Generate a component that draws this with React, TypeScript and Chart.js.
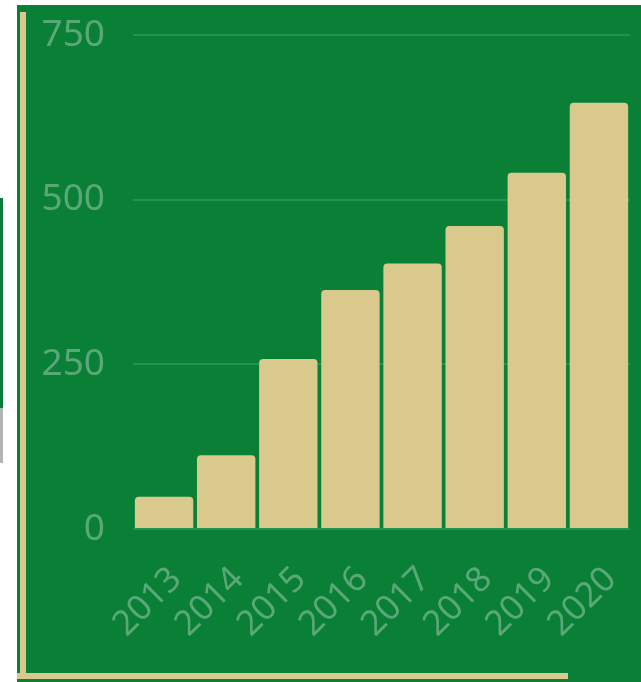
import React, { useEffect, useRef } from "react";
import { Chart, registerables } from "chart.js";

Chart.register(...registerables);

const years = ["2013", "2014", "2015", "2016", "2017", "2018", "2019", "2020"];
const values = [49, 112, 258, 363, 403, 460, 541, 647];
const yTicks = [0, 250, 500, 750];

const GREEN = "#0a8037";
const BEIGE = "#dac98c";
const LABEL = "#5aa878";

export default function App() {
  const ref = useRef<HTMLCanvasElement | null>(null);

  useEffect(() => {
    document.body.style.margin = "0";
    const ctx = ref.current!;
    const chart = new Chart(ctx, {
      type: "bar",
      data: {
        labels: years,
        datasets: [
          {
            data: values,
            backgroundColor: BEIGE,
            borderRadius: 4,
            barPercentage: 0.94,
            categoryPercentage: 1,
          },
        ],
      },
      options: {
        animation: false,
        responsive: false,
        maintainAspectRatio: false,
        layout: { padding: { top: 30, right: 11, left: 0, bottom: 0 } },
        plugins: { legend: { display: false }, tooltip: { enabled: false } },
        scales: {
          x: {
            grid: { display: false, drawTicks: false },
            border: { display: false },
            ticks: {
              color: LABEL,
              font: { family: "Noto Sans", size: 35 },
              maxRotation: 45,
              minRotation: 45,
              padding: 30,
              labelOffset: 12,
              autoSkip: false,
            },
            afterFit: (axis: any) => {
              axis.height = 146;
              axis.paddingLeft = 0;
              axis.paddingRight = 0;
            },
          },
          y: {
            min: 0,
            max: 750,
            afterBuildTicks: (axis: any) => {
              axis.ticks = yTicks.map((v) => ({ value: v }));
            },
            grid: { color: "#1f9350", lineWidth: 2, drawTicks: false },
            border: { display: false },
            ticks: {
              color: LABEL,
              font: { family: "Noto Sans", size: 37 },
              padding: 28,
            },
            afterFit: (axis: any) => {
              axis.width = 108;
              axis.paddingTop = 0;
              axis.paddingBottom = 0;
            },
          },
        },
      },
    });
    return () => chart.destroy();
  }, []);

  return (
    <div style={{ position: "relative", width: 641, height: 682, background: "#ffffff", overflow: "hidden" }}>
      <div style={{ position: "absolute", left: 0, top: 198, width: 3, height: 210, background: "#0a7d3a" }} />
      <div style={{ position: "absolute", left: 0, top: 408, width: 3, height: 55, background: "#b4b4b4" }} />
      <div style={{ position: "absolute", left: 17, top: 5, width: 624, height: 677, background: GREEN }} />
      <div style={{ position: "absolute", left: 20, top: 12, width: 6, height: 667, background: BEIGE }} />
      <div style={{ position: "absolute", left: 17, top: 673, width: 551, height: 6, background: BEIGE }} />
      <canvas ref={ref} width={616} height={670} style={{ position: "absolute", left: 25, top: 5, width: 616, height: 670 }} />
    </div>
  );
}
